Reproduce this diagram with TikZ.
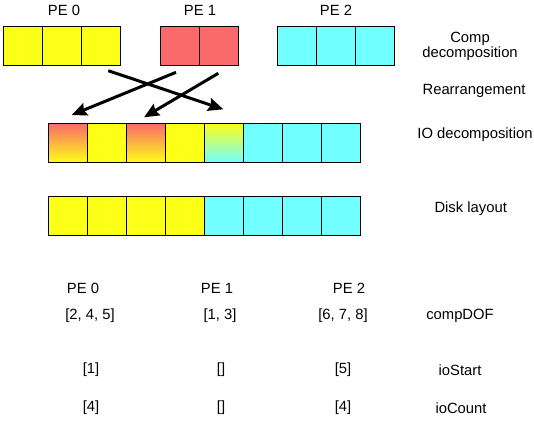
\documentclass[tikz,border=0pt]{standalone}
\usepackage{fontspec}
\setmainfont{Liberation Sans}
\usetikzlibrary{arrows.meta}
\definecolor{cyel}{RGB}{252,255,22}
\definecolor{cred}{RGB}{250,106,106}
\definecolor{ccya}{RGB}{114,255,255}
\tikzset{
  cell/.style={draw=black, line width=1pt, minimum width=39pt, minimum height=39pt, inner sep=0pt, outer sep=0pt, anchor=north west},
  ycell/.style={cell, fill=cyel},
  rcell/.style={cell, fill=cred},
  ccell/.style={cell, fill=ccya},
  rycell/.style={cell, top color=cred, bottom color=cyel},
  yccell/.style={cell, top color=cyel, bottom color=ccya},
  lbl/.style={font=\fontsize{14.8}{15.5}\selectfont, inner sep=0pt, align=center},
  mvarrow/.style={line width=3pt, -{Stealth[length=15pt, width=13pt, inset=2pt]}},
}
\begin{document}
\begin{tikzpicture}[x=1pt, y=-1pt]
\useasboundingbox (0,0) rectangle (534,429);
% PE labels top
\node[lbl] (pe0t) at (64,10) {PE 0};
\node[lbl] (pe1t) at (200,10) {PE 1};
\node[lbl] (pe2t) at (336,10) {PE 2};
% comp decomposition
\node[ycell] (a1) at (3.3,26) {};
\node[ycell] (a2) at (42.3,26) {};
\node[ycell] (a3) at (81.3,26) {};
\node[rcell] (b1) at (160.3,26) {};
\node[rcell] (b2) at (199.3,26) {};
\node[ccell] (c1) at (277.3,26) {};
\node[ccell] (c2) at (316.3,26) {};
\node[ccell] (c3) at (355.3,26) {};
% IO decomposition
\node[rycell] (i1) at (48.3,123.3) {};
\node[ycell] (i2) at (87.3,123.3) {};
\node[rycell] (i3) at (126.3,123.3) {};
\node[ycell] (i4) at (165.3,123.3) {};
\node[yccell] (i5) at (204.3,123.3) {};
\node[ccell] (i6) at (243.3,123.3) {};
\node[ccell] (i7) at (282.3,123.3) {};
\node[ccell] (i8) at (321.3,123.3) {};
% Disk layout
\node[ycell] (d1) at (48.3,196.7) {};
\node[ycell] (d2) at (87.3,196.7) {};
\node[ycell] (d3) at (126.3,196.7) {};
\node[ycell] (d4) at (165.3,196.7) {};
\node[ccell] (d5) at (204.3,196.7) {};
\node[ccell] (d6) at (243.3,196.7) {};
\node[ccell] (d7) at (282.3,196.7) {};
\node[ccell] (d8) at (321.3,196.7) {};
% arrows
\coordinate (s1) at (108.3,70.7);
\coordinate (e1) at (223.3,109.3);
\coordinate (s2) at (176,72.3);
\coordinate (e2) at (71.7,115);
\coordinate (s3) at (218.3,73.3);
\coordinate (e3) at (144,117.3);
\draw[mvarrow] (s1) -- (e1);
\draw[mvarrow] (s2) -- (e2);
\draw[mvarrow] (s3) -- (e3);
% right labels
\node[lbl] (lcomp) at (470,46.5) {Comp\\decomposition};
\node[lbl] (lrear) at (474,91) {Rearrangement};
\node[lbl] (lio) at (475,135) {IO decomposition};
\node[lbl] (ldisk) at (470.7,209) {Disk layout};
% bottom table
\node[lbl] (pe0b) at (83,288) {PE 0};
\node[lbl] (pe1b) at (217,288) {PE 1};
\node[lbl] (pe2b) at (349,288) {PE 2};
\node[lbl] (cd0) at (90,316) {[2, 4, 5]};
\node[lbl] (cd1) at (220,316) {[1, 3]};
\node[lbl] (cd2) at (343,316) {[6, 7, 8]};
\node[lbl] (cdl) at (460,316) {compDOF};
\node[lbl] (is0) at (91,370) {[1]};
\node[lbl] (is1) at (221,370) {[]};
\node[lbl] (is2) at (343,370) {[5]};
\node[lbl] (isl) at (460,370) {ioStart};
\node[lbl] (ic0) at (91,408) {[4]};
\node[lbl] (ic1) at (221,408) {[]};
\node[lbl] (ic2) at (343,408) {[4]};
\node[lbl] (icl) at (461,408) {ioCount};
\end{tikzpicture}
\end{document}
